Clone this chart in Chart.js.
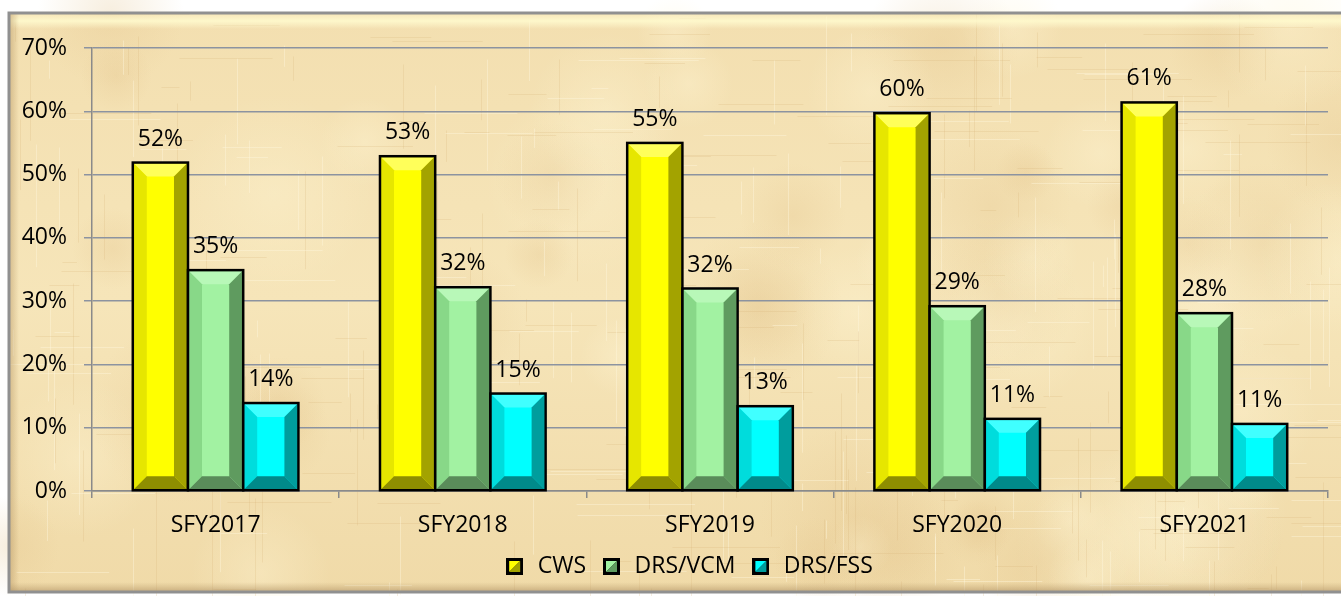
<!DOCTYPE html>
<html>
<head>
<meta charset="utf-8">
<script src="https://cdn.jsdelivr.net/npm/chart.js@4.4.1/dist/chart.umd.min.js"></script>
<style>
  html, body { margin: 0; padding: 0; background: #fff; }
  #wrap { width: 1341px; height: 596px; }
</style>
</head>
<body>
<div id="wrap"><canvas id="chart" width="1341" height="596"></canvas></div>
<script>
const categories = ['SFY2017', 'SFY2018', 'SFY2019', 'SFY2020', 'SFY2021'];
const cws = [51.9, 52.9, 55.0, 59.7, 61.4];
const drsVcm = [34.9, 32.2, 32.0, 29.2, 28.1];
const drsFss = [13.9, 15.4, 13.4, 11.4, 10.6];
const yTicks = [0, 10, 20, 30, 40, 50, 60, 70];

const FONT = '"Open Sans", sans-serif';

// colours: face, top, left, right, bottom
const shades = {
  CWS: ['#ffff00', '#ffff5a', '#e6e600', '#a3a300', '#8e8e00'],
  'DRS/VCM': ['#a2f2a2', '#b8f8b8', '#88d888', '#5f9b5f', '#5a8c5a'],
  'DRS/FSS': ['#00ffff', '#40ffff', '#00dcdc', '#009d9d', '#008a8a']
};

function legendIcon(c) {
  const cv = document.createElement('canvas');
  cv.width = 17; cv.height = 17;
  const g = cv.getContext('2d');
  g.fillStyle = '#000';
  g.fillRect(0, 0, 17, 17);
  g.fillStyle = c[0];
  g.beginPath(); g.moveTo(3, 3); g.lineTo(14, 3); g.lineTo(3, 14); g.closePath(); g.fill();
  g.fillStyle = c[3];
  g.beginPath(); g.moveTo(14, 3); g.lineTo(14, 14); g.lineTo(3, 14); g.closePath(); g.fill();
  return cv;
}

// simple seeded generator for the paper texture only
let seed = 7;
function rnd() { seed = (seed * 16807) % 2147483647; return seed / 2147483647; }

const paper = {
  id: 'paper',
  beforeDraw(chart) {
    const g = chart.ctx;
    const W = chart.width, H = chart.height;
    g.save();
    g.fillStyle = '#ffffff';
    g.fillRect(0, 0, W, H);
    const x0 = 9, y0 = 13, x1 = W + 4, y1 = 592;
    const grad = g.createLinearGradient(0, y0, 0, y1);
    grad.addColorStop(0, '#f3dfb0');
    grad.addColorStop(0.5, '#f6e5b9');
    grad.addColorStop(1, '#f0daa8');
    g.fillStyle = grad;
    g.fillRect(x0, y0, x1 - x0, y1 - y0);
    seed = 7;
    for (let i = 0; i < 60; i++) {
      const x = x0 + rnd() * (x1 - x0);
      const y = y0 + rnd() * (y1 - y0);
      const r = 30 + rnd() * 70;
      const warm = rnd() < 0.5;
      const rg = g.createRadialGradient(x, y, 0, x, y, r);
      rg.addColorStop(0, warm ? 'rgba(226,194,138,0.28)' : 'rgba(255,246,214,0.35)');
      rg.addColorStop(1, warm ? 'rgba(226,194,138,0)' : 'rgba(255,246,214,0)');
      g.fillStyle = rg;
      g.fillRect(x - r, y - r, 2 * r, 2 * r);
    }
    g.lineWidth = 1;
    for (let i = 0; i < 420; i++) {
      const x = x0 + rnd() * (x1 - x0);
      const y = y0 + rnd() * (y1 - y0);
      const vertical = rnd() < 0.55;
      const len = 15 + rnd() * 110;
      g.strokeStyle = rnd() < 0.55 ? 'rgba(212,178,120,0.22)' : 'rgba(255,248,222,0.4)';
      g.beginPath();
      g.moveTo(Math.round(x) + 0.5, Math.round(y) + 0.5);
      if (vertical) g.lineTo(Math.round(x) + 0.5, y + len); else g.lineTo(x + len, Math.round(y) + 0.5);
      g.stroke();
    }
    // bevelled frame
    const top = g.createLinearGradient(0, y0, 0, y0 + 16);
    top.addColorStop(0, 'rgba(255,250,210,0.2)');
    top.addColorStop(0.5, 'rgba(255,250,205,0.9)');
    top.addColorStop(1, 'rgba(255,250,210,0)');
    g.fillStyle = top;
    g.fillRect(x0, y0, x1 - x0, 16);
    const left = g.createLinearGradient(x0, 0, x0 + 10, 0);
    left.addColorStop(0, 'rgba(190,160,110,0.6)');
    left.addColorStop(1, 'rgba(190,160,110,0)');
    g.fillStyle = left;
    g.fillRect(x0, y0, 10, y1 - y0);
    const bot = g.createLinearGradient(0, y1 - 10, 0, y1);
    bot.addColorStop(0, 'rgba(190,160,110,0)');
    bot.addColorStop(1, 'rgba(170,140,95,0.6)');
    g.fillStyle = bot;
    g.fillRect(x0, y1 - 10, x1 - x0, 10);
    g.strokeStyle = '#909090';
    g.lineWidth = 3;
    g.strokeRect(x0, y0, x1 - x0, y1 - y0);
    g.restore();
  }
};

const bevel = {
  id: 'bevel',
  afterDatasetsDraw(chart) {
    const g = chart.ctx;
    g.save();
    chart.data.datasets.forEach((ds, di) => {
      const c = shades[ds.label];
      chart.getDatasetMeta(di).data.forEach((bar, i) => {
        const L = bar.x - bar.width / 2 + 1, R = bar.x + bar.width / 2 - 1;
        const T = bar.y + 1, B = bar.base - 1;
        const b = Math.min(13, (B - T) / 2);
        const poly = (pts, col) => {
          g.fillStyle = col;
          g.beginPath();
          g.moveTo(pts[0][0], pts[0][1]);
          for (let k = 1; k < pts.length; k++) g.lineTo(pts[k][0], pts[k][1]);
          g.closePath();
          g.fill();
        };
        poly([[L, T], [R, T], [R - b, T + b], [L + b, T + b]], c[1]);
        poly([[L, T], [L + b, T + b], [L + b, B - b], [L, B]], c[2]);
        poly([[R, T], [R, B], [R - b, B - b], [R - b, T + b]], c[3]);
        poly([[L, B], [L + b, B - b], [R - b, B - b], [R, B]], c[4]);
        g.strokeStyle = '#000';
        g.lineWidth = 2.5;
        g.strokeRect(bar.x - bar.width / 2, bar.y, bar.width, bar.base - bar.y);
        // value label
        g.fillStyle = '#000';
        g.font = '23px ' + FONT;
        g.textAlign = 'center';
        g.textBaseline = 'bottom';
        g.fillText(Math.round(ds.data[i]) + '%', bar.x, bar.y - 12);
      });
    });
    g.restore();
  }
};

const shiftLegend = {
  id: 'shiftLegend',
  afterLayout(chart) {
    chart.legend.left += 24;
    chart.legend.right += 24;
  }
};

const ctx = document.getElementById('chart').getContext('2d');
new Chart(ctx, {
  type: 'bar',
  data: {
    labels: categories,
    datasets: [
      { label: 'CWS', data: cws, backgroundColor: shades.CWS[0] },
      { label: 'DRS/VCM', data: drsVcm, backgroundColor: shades['DRS/VCM'][0] },
      { label: 'DRS/FSS', data: drsFss, backgroundColor: shades['DRS/FSS'][0] }
    ]
  },
  plugins: [paper, bevel, shiftLegend],
  options: {
    responsive: false,
    animation: false,
    layout: { padding: { left: 0, right: 13, top: 48, bottom: 8 } },
    datasets: {
      bar: { barPercentage: 1, categoryPercentage: 0.67, borderWidth: 0 }
    },
    scales: {
      x: {
        grid: { display: true, drawOnChartArea: false, offset: true, tickLength: 7, color: '#8a8a8a', lineWidth: 1.5 },
        border: { display: true, color: '#8a8a8a', width: 1.5 },
        ticks: { color: '#000', font: { family: FONT, size: 23 }, padding: 14 },
        afterFit(scale) { scale.height = 50; }
      },
      y: {
        min: 0,
        max: 70,
        afterBuildTicks(scale) { scale.ticks = yTicks.map(v => ({ value: v })); },
        grid: { color: '#8c93a0', lineWidth: 1.5, tickLength: 8 },
        border: { display: true, color: '#8a8a8a', width: 1.5 },
        ticks: {
          color: '#000',
          font: { family: FONT, size: 23 },
          padding: 17,
          callback: v => v + '%'
        },
        afterFit(scale) { scale.width = 92; }
      }
    },
    plugins: {
      legend: {
        position: 'bottom',
        labels: {
          color: '#000',
          font: { family: FONT, size: 23 },
          usePointStyle: true,
          padding: 14,
          generateLabels(chart) {
            return chart.data.datasets.map((ds, i) => ({
              text: ds.label,
              pointStyle: legendIcon(shades[ds.label]),
              fillStyle: shades[ds.label][0],
              strokeStyle: '#000',
              lineWidth: 0,
              hidden: false,
              datasetIndex: i,
              fontColor: '#000'
            }));
          }
        }
      },
      tooltip: { enabled: false }
    }
  }
});
</script>
</body>
</html>
